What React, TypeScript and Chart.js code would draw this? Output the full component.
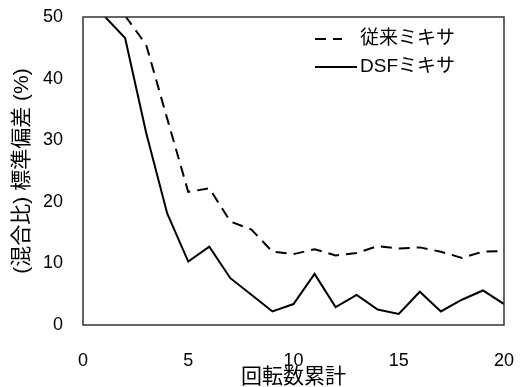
import React, { useEffect, useRef } from 'react';
import { Chart, registerables } from 'chart.js';

Chart.register(...registerables);

const rotations: number[] = [0, 1, 2, 3, 4, 5, 6, 7, 8, 9, 10, 11, 12, 13, 14, 15, 16, 17, 18, 19, 20];
const conventional: (number | null)[] = [null, null, 50.2, 45.5, 33.5, 21.6, 22.2, 16.8, 15.5, 11.9, 11.5, 12.3, 11.3, 11.7, 12.8, 12.4, 12.6, 11.9, 10.9, 11.9, 12.0];
const dsf: (number | null)[] = [null, 50.2, 46.6, 31.2, 18.1, 10.3, 12.7, 7.6, 4.9, 2.2, 3.4, 8.3, 2.9, 4.9, 2.5, 1.8, 5.4, 2.2, 4.1, 5.6, 3.4];
const xTicks: number[] = [0, 5, 10, 15, 20];
const yTicks: number[] = [0, 10, 20, 30, 40, 50];
const seriesNames: string[] = ['従来ミキサ', 'DSFミキサ'];
const xTitle = '回転数累計';
const yTitle = '(混合比) 標準偏差 (%)';

const FONT = "'Liberation Sans', Arial, 'Noto Sans CJK JP', sans-serif";
const DASH = [11, 7];

const framePlugin = {
  id: 'frame',
  afterDraw(chart: any) {
    const { ctx, chartArea } = chart;
    ctx.save();
    ctx.strokeStyle = '#333';
    ctx.lineWidth = 1.5;
    ctx.strokeRect(chartArea.left, chartArea.top, chartArea.right - chartArea.left, chartArea.bottom - chartArea.top);
    ctx.restore();
  },
};

const legendPlugin = {
  id: 'customLegend',
  afterDraw(chart: any) {
    const { ctx, chartArea } = chart;
    ctx.save();
    ctx.font = `19px ${FONT}`;
    ctx.fillStyle = '#000';
    ctx.strokeStyle = '#000';
    ctx.lineWidth = 2;
    ctx.textBaseline = 'middle';
    ctx.textAlign = 'left';
    const lineX0 = chartArea.right - 189;
    const textX = chartArea.right - 144;
    const rows = [
      { name: seriesNames[0], dash: DASH, y: chartArea.top + 22, len: 27 },
      { name: seriesNames[1], dash: [], y: chartArea.top + 50, len: 42 },
    ];
    rows.forEach((r) => {
      ctx.setLineDash(r.dash);
      ctx.beginPath();
      ctx.moveTo(lineX0, r.y);
      ctx.lineTo(lineX0 + r.len, r.y);
      ctx.stroke();
      ctx.setLineDash([]);
      ctx.fillText(r.name, textX, r.y);
    });
    ctx.restore();
  },
};

const clearPadding = (scale: any) => {
  scale.paddingTop = 0;
  scale.paddingBottom = 0;
  scale.paddingLeft = 0;
  scale.paddingRight = 0;
};

export default function App() {
  const ref = useRef<HTMLCanvasElement | null>(null);

  useEffect(() => {
    document.body.style.margin = '0';
    const canvas = ref.current;
    if (!canvas) return;
    const chart = new Chart(canvas, {
      type: 'line',
      data: {
        datasets: [
          {
            label: seriesNames[0],
            data: rotations.map((x, i) => ({ x, y: conventional[i] })) as any,
            borderColor: '#000',
            borderWidth: 2,
            borderDash: DASH,
            pointRadius: 0,
            fill: false,
            tension: 0,
            spanGaps: false,
          },
          {
            label: seriesNames[1],
            data: rotations.map((x, i) => ({ x, y: dsf[i] })) as any,
            borderColor: '#000',
            borderWidth: 2,
            pointRadius: 0,
            fill: false,
            tension: 0,
            spanGaps: false,
          },
        ],
      },
      options: {
        responsive: false,
        animation: false,
        devicePixelRatio: 1,
        layout: { padding: { top: 17, right: 17, left: 0, bottom: 0 } },
        plugins: { legend: { display: false }, tooltip: { enabled: false } },
        scales: {
          x: {
            type: 'linear',
            min: 0,
            max: 20,
            afterBuildTicks: (scale: any) => {
              scale.ticks = xTicks.map((v) => ({ value: v }));
            },
            afterFit: (scale: any) => {
              scale.height = 62;
              clearPadding(scale);
            },
            grid: { display: false, drawTicks: false },
            border: { display: false },
            ticks: {
              color: '#000',
              padding: 25,
              maxRotation: 0,
              font: { family: FONT, size: 18 },
            },
            title: {
              display: true,
              text: xTitle,
              color: '#000',
              padding: 0,
              font: { family: FONT, size: 21, lineHeight: 0.9 },
            },
          },
          y: {
            type: 'linear',
            min: 0,
            max: 50,
            afterBuildTicks: (scale: any) => {
              scale.ticks = yTicks.map((v) => ({ value: v }));
            },
            afterFit: (scale: any) => {
              scale.width = 83;
              clearPadding(scale);
            },
            grid: { display: false, drawTicks: false },
            border: { display: false },
            ticks: {
              color: '#000',
              padding: 20,
              font: { family: FONT, size: 18 },
            },
            title: {
              display: true,
              text: yTitle,
              color: '#000',
              padding: { top: 12, bottom: 0 },
              font: { family: FONT, size: 21, lineHeight: 1 },
            },
          },
        },
      },
      plugins: [framePlugin, legendPlugin],
    });
    return () => chart.destroy();
  }, []);

  return (
    <div style={{ width: 521, height: 387, background: '#fff' }}>
      <canvas ref={ref} width={521} height={387} style={{ display: 'block' }} />
    </div>
  );
}
